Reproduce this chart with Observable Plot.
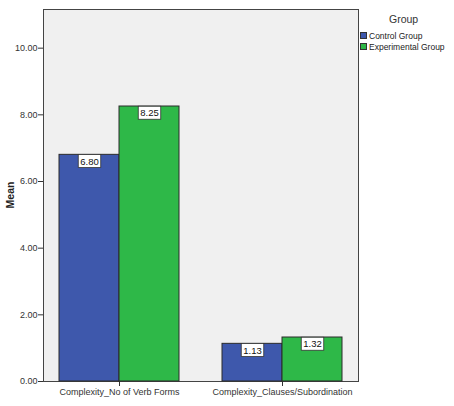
<!DOCTYPE html>
<html>
<head>
<meta charset="utf-8">
<script src="https://cdn.jsdelivr.net/npm/d3@7"></script>
<script src="https://cdn.jsdelivr.net/npm/@observablehq/plot@0.6"></script>
<style>
  html, body { margin: 0; padding: 0; background: #fff; }
  #wrap { position: relative; width: 454px; height: 406px; font-family: "Liberation Sans", Arial, sans-serif; }
  #legend { position: absolute; left: 360px; top: 13px; font-size: 8.5px; color: #222; }
  #legend .title { font-size: 10.5px; color: #333; margin-left: 29px; margin-bottom: 5px; }
  #legend .item { display: flex; align-items: center; height: 11px; }
  #legend .sw { width: 7px; height: 7px; border: 1px solid #333; margin-right: 2px; box-sizing: border-box; }
</style>
</head>
<body>
<div id="wrap"></div>
<script>
const categories = ["Complexity_No of Verb Forms", "Complexity_Clauses/Subordination"];
const groups = ["Control Group", "Experimental Group"];
const controlValues = [6.80, 1.13];
const experimentalValues = [8.25, 1.32];
const yTicks = [0, 2, 4, 6, 8, 10];
const colors = ["#3E58AC", "#2EB848"];

const data = [];
categories.forEach((c, i) => {
  data.push({category: c, group: groups[0], value: controlValues[i]});
  data.push({category: c, group: groups[1], value: experimentalValues[i]});
});

const W = 454, H = 406;
const mL = 43, mR = 96, mT = 9, mB = 25;

const plot = Plot.plot({
  width: W,
  height: H,
  marginLeft: mL,
  marginRight: mR,
  marginTop: mT,
  marginBottom: mB,
  style: {fontFamily: "Liberation Sans, Arial, sans-serif", fontSize: "9px", color: "#333", background: "transparent"},
  fx: {domain: categories, paddingInner: 0.0675, paddingOuter: 0, tickSize: 5, tickPadding: 2, label: null, axis: "bottom"},
  x: {domain: groups, paddingInner: 0, paddingOuter: 0.246, axis: null},
  y: {domain: [0, 11.16], ticks: yTicks, tickFormat: d3.format(".2f"), tickSize: 5, tickPadding: 1, label: null},
  color: {domain: groups, range: colors},
  marks: [
    Plot.barY(data, {fx: "category", x: "group", y: "value", fill: "group", stroke: "#2a2a2a", strokeWidth: 1}),
    Plot.text(data, {fx: "category", x: "group", y: "value", text: d => d.value.toFixed(2),
      lineAnchor: "top", dy: 3, fontSize: 9.5, fill: "#111"})
  ]
});

const wrap = document.getElementById("wrap");
wrap.appendChild(plot);

const svgNode = plot.tagName.toLowerCase() === "svg" ? plot : plot.querySelector("svg");
const svg = d3.select(svgNode);
const ns = "http://www.w3.org/2000/svg";

// plot-area background and border
const yScale = plot.scale("y");
const yTop = Math.min(...yScale.range), yBot = Math.max(...yScale.range);
const firstG = svgNode.querySelector("g");
const bg = document.createElementNS(ns, "rect");
bg.setAttribute("x", mL + 0.5);
bg.setAttribute("y", yTop + 0.5);
bg.setAttribute("width", W - mL - mR);
bg.setAttribute("height", yBot - yTop);
bg.setAttribute("fill", "#F0F0F0");
bg.setAttribute("stroke", "#444");
bg.setAttribute("stroke-width", 1);
svgNode.insertBefore(bg, firstG);

// boxes behind value labels
svg.selectAll('g[aria-label="text"] text').each(function() {
  const bb = this.getBBox();
  const r = document.createElementNS(ns, "rect");
  r.setAttribute("x", bb.x - 2);
  r.setAttribute("y", bb.y - 1);
  r.setAttribute("width", bb.width + 4);
  r.setAttribute("height", bb.height + 2);
  r.setAttribute("fill", "#fff");
  r.setAttribute("stroke", "#333");
  r.setAttribute("stroke-width", 0.8);
  const t = this.getAttribute("transform");
  if (t) r.setAttribute("transform", t);
  this.parentNode.insertBefore(r, this);
});

// y axis title
svg.append("text")
  .attr("transform", `translate(11,${(yTop + yBot) / 2}) rotate(-90)`)
  .attr("text-anchor", "middle")
  .attr("dominant-baseline", "middle")
  .attr("font-size", 10.5)
  .attr("font-weight", "bold")
  .attr("fill", "#222")
  .text("Mean");

// legend
const legend = document.createElement("div");
legend.id = "legend";
legend.innerHTML = `<div class="title">Group</div>` + groups.map((g, i) =>
  `<div class="item"><span class="sw" style="background:${colors[i]}"></span>${g}</div>`).join("");
wrap.appendChild(legend);
</script>
</body>
</html>
